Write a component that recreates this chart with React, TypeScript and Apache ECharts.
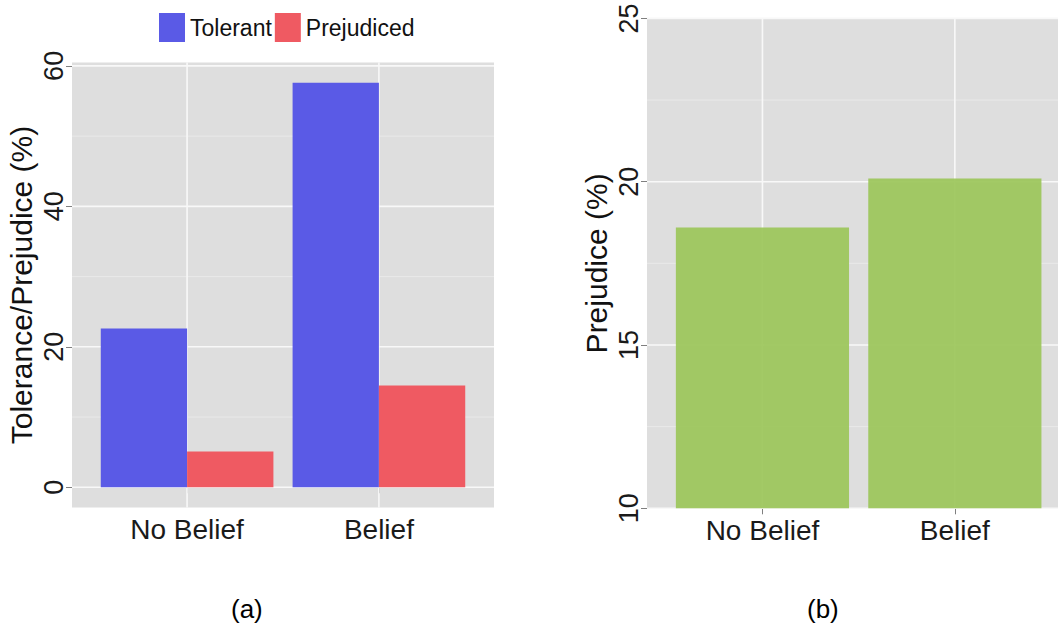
import React, { useEffect, useRef } from "react";
import * as echarts from "echarts";

// Survey groups and the measured percentages
const categories = ["No Belief", "Belief"];
const tolerant = [22.6, 57.6];
const prejudiced = [5.1, 14.5];
const prejudiceOnly = [18.6, 20.1];

// Axis ticks and the lighter in-between grid lines
const leftTicks = [0, 20, 40, 60];
const leftMinor = [10, 30, 50];
const rightTicks = [10, 15, 20, 25];
const rightMinor = [12.5, 17.5, 22.5];
const panelLabels = ["(a)", "(b)"];

const FONT = "'Liberation Sans', Arial, Helvetica, sans-serif";
const TEXT = "#1a1a1a";
const TICK = "#7f7f7f";
const PANEL_BG = "#dedede";
const MAJOR = "#f8f8f8";
const MINOR = "#e9e9e9";

// Discrete positions: categories sit at 1..n with 0.6 padding on each side
const catPos = categories.map((_, i) => i + 1);
const xMin = 1 - 0.6;
const xMax = categories.length + 0.6;

// Left panel value range padded by 5% of the data span
const leftTop = Math.max(...tolerant, ...prejudiced);
const leftMin = -0.05 * leftTop;
const leftMax = leftTop * 1.05;

function gridLines(
  axisIndex: number,
  values: number[],
  orient: "h" | "v",
  ref: number,
  color: string,
  width: number
) {
  return {
    type: "custom",
    xAxisIndex: axisIndex,
    yAxisIndex: axisIndex,
    z: 1,
    silent: true,
    clip: false,
    data: values.map((v) => (orient === "h" ? [ref, v] : [v, ref])),
    renderItem: (params: any, api: any) => {
      const cs = params.coordSys;
      const p = api.coord([api.value(0), api.value(1)]);
      const shape =
        orient === "h"
          ? { x1: cs.x, y1: p[1], x2: cs.x + cs.width, y2: p[1] }
          : { x1: p[0], y1: cs.y, x2: p[0], y2: cs.y + cs.height };
      return { type: "line", shape, style: { stroke: color, lineWidth: width } };
    },
  };
}

function xAxisFor(gridIndex: number) {
  return {
    type: "value",
    gridIndex,
    min: xMin,
    max: xMax,
    axisLine: { show: false },
    splitLine: { show: false },
    axisTick: {
      show: true,
      customValues: catPos,
      length: 6,
      lineStyle: { color: TICK, width: 1 },
    },
    axisLabel: {
      customValues: catPos,
      formatter: (v: number) => categories[Math.round(v) - 1] ?? "",
      margin: 8,
      fontSize: 28,
      fontFamily: FONT,
      color: TEXT,
    },
  };
}

function yAxisFor(
  gridIndex: number,
  name: string,
  min: number,
  max: number,
  ticks: number[],
  labelMargin: number,
  nameGap: number
) {
  return {
    type: "value",
    gridIndex,
    min,
    max,
    name,
    nameLocation: "middle",
    nameGap,
    nameTextStyle: { fontSize: 30, fontFamily: FONT, color: "#111" },
    axisLine: { show: false },
    splitLine: { show: false },
    axisTick: {
      show: true,
      customValues: ticks,
      length: 6,
      lineStyle: { color: TICK, width: 1 },
    },
    axisLabel: {
      customValues: ticks,
      rotate: 90,
      margin: labelMargin,
      fontSize: 27,
      fontFamily: FONT,
      color: TEXT,
    },
  };
}

export default function App() {
  const ref = useRef<HTMLDivElement>(null);

  useEffect(() => {
    if (!ref.current) return;
    const chart = echarts.init(ref.current, undefined, { renderer: "svg" });

    chart.setOption({
      animation: false,
      backgroundColor: "#ffffff",
      textStyle: { fontFamily: FONT },
      legend: {
        data: ["Tolerant", "Prejudiced"],
        left: 159,
        top: 13,
        padding: 0,
        icon: "rect",
        itemWidth: 26,
        itemHeight: 29,
        itemGap: 3,
        textStyle: { fontSize: 23, fontFamily: FONT, color: "#111" },
      },
      grid: [
        {
          left: 72,
          top: 62.5,
          width: 422,
          height: 445,
          show: true,
          backgroundColor: PANEL_BG,
          borderWidth: 0,
          outerBoundsMode: "none",
        },
        {
          left: 647,
          top: 18.4,
          width: 423.3,
          height: 489.9,
          show: true,
          backgroundColor: PANEL_BG,
          borderWidth: 0,
          outerBoundsMode: "none",
        },
      ],
      xAxis: [xAxisFor(0), xAxisFor(1)],
      yAxis: [
        yAxisFor(0, "Tolerance/Prejudice (%)", leftMin, leftMax, leftTicks, 5, 36),
        yAxisFor(1, "Prejudice (%)", rightTicks[0], rightTicks[rightTicks.length - 1], rightTicks, 5, 36),
      ],
      graphic: panelLabels.map((t, i) => ({
        type: "text",
        left: i === 0 ? 231 : 807,
        top: 596,
        style: { text: t, fontSize: 26, fontFamily: FONT, fill: "#000" },
      })),
      series: [
        gridLines(0, leftMinor, "h", 1, MINOR, 1),
        gridLines(0, leftTicks, "h", 1, MAJOR, 1.6),
        gridLines(0, catPos, "v", 0, MAJOR, 1.6),
        gridLines(1, rightMinor, "h", 1, MINOR, 1),
        gridLines(1, rightTicks, "h", 1, MAJOR, 1.6),
        gridLines(1, catPos, "v", 10, MAJOR, 1.6),
        {
          name: "Tolerant",
          type: "bar",
          xAxisIndex: 0,
          yAxisIndex: 0,
          z: 2,
          barWidth: "45%",
          barGap: "0%",
          itemStyle: { color: "#5a5ae6" },
          data: catPos.map((x, i) => [x, tolerant[i]]),
        },
        {
          name: "Prejudiced",
          type: "bar",
          xAxisIndex: 0,
          yAxisIndex: 0,
          z: 2,
          barWidth: "45%",
          barGap: "0%",
          itemStyle: { color: "#ef5a62" },
          data: catPos.map((x, i) => [x, prejudiced[i]]),
        },
        {
          name: "Prejudice",
          type: "bar",
          xAxisIndex: 1,
          yAxisIndex: 1,
          z: 2,
          barWidth: "90%",
          itemStyle: { color: "#9bc659", opacity: 0.92 },
          data: catPos.map((x, i) => [x, prejudiceOnly[i]]),
        },
      ],
    });

    return () => chart.dispose();
  }, []);

  return (
    <div
      ref={ref}
      style={{ position: "fixed", left: 0, top: 0, width: 1058, height: 624 }}
    />
  );
}
